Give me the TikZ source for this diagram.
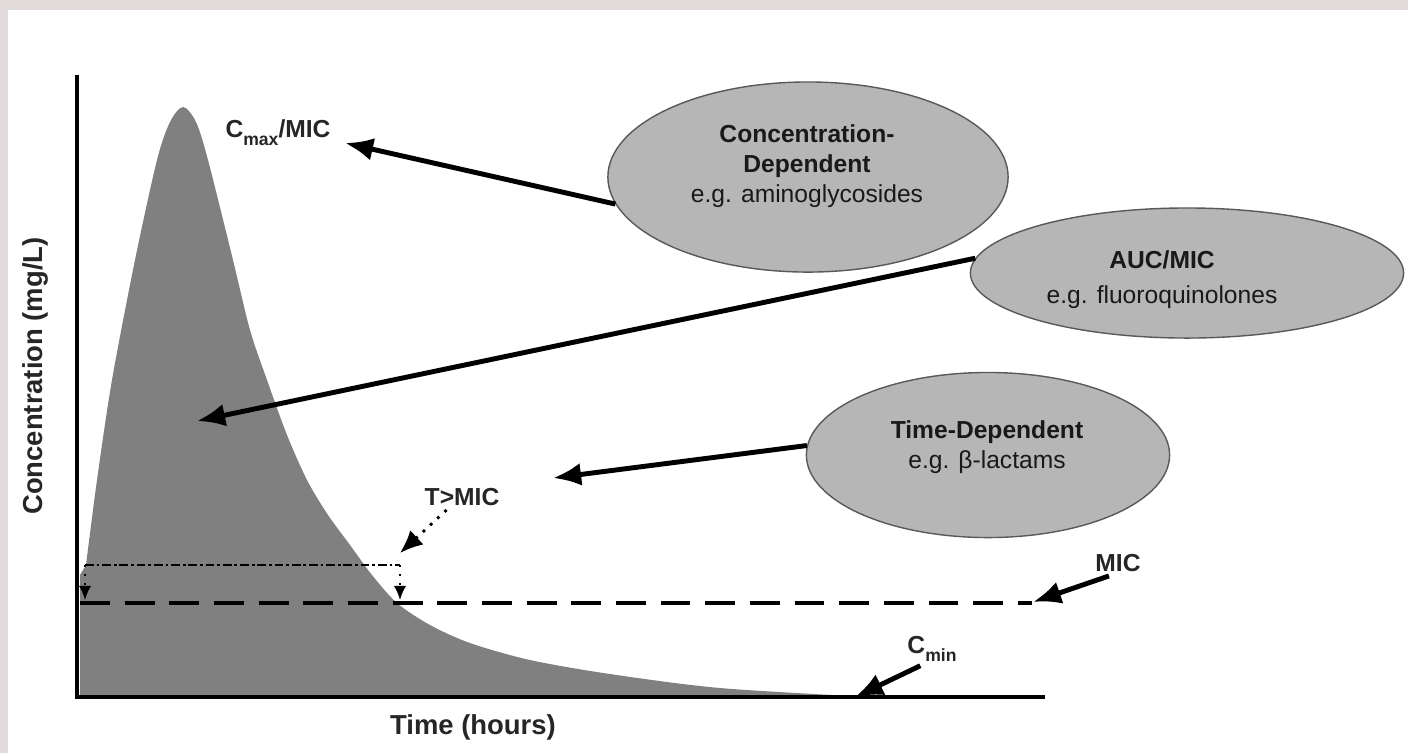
\documentclass[tikz,border=0pt]{standalone}
\usepackage{fontspec}
\setmainfont{Liberation Sans}
\usetikzlibrary{positioning,arrows.meta,shapes.geometric}
\definecolor{curvegray}{RGB}{128,128,128}
\definecolor{bubblegray}{RGB}{182,182,182}
\definecolor{framegray}{RGB}{227,219,219}
\newcommand{\lowsub}[1]{\raisebox{-0.6ex}{\fontsize{5}{5}\selectfont #1}}
\tikzset{
	bubble/.style={ellipse,draw=black!65,thin,fill=bubblegray,inner sep=0pt},
	bubtext/.style={draw=none,text centered,align=center,font=\fontsize{7}{8.5}\selectfont,text=black!90},
	mylabel/.style={draw=none,font=\bfseries\fontsize{7}{8.5}\selectfont,text=black!85,inner sep=1pt},
	axislabel/.style={draw=none,font=\bfseries\fontsize{7.8}{9}\selectfont,text=black!85},
	myarrow1/.style={-{Latex[length=8pt,width=6.5pt]},line width=1.4pt},
	myarrow2/.style={-{Latex[length=6.5pt,width=5.5pt]},line width=0.8pt,dotted},
	myarrow3/.style={-{Latex[length=4pt,width=3.5pt]},line width=0.6pt,dotted},
	bracketline/.style={line width=0.7pt,dash pattern=on 2.5pt off 0.8pt on 0.8pt off 0.8pt},
	micline/.style={line width=1.1pt,dash pattern=on 8.5pt off 4.2pt},
	axisline/.style={line width=1.4pt}
}
\begin{document}
\begin{tikzpicture}[x=0.01cm,y=-0.01cm]
		\useasboundingbox (0,0) rectangle (1408,753);
		\fill[framegray] (0,0) rectangle (1408,753);
		\fill[white] (8,10) rectangle (1408,753);
		\fill[curvegray] (80,697) -- (80,575) -- plot[smooth,tension=0.5] coordinates {(86,565) (97,480) (112,380) (135,260) (157,160) (170,122) (183,107) (196,122) (208,160) (233,260) (250,330) (267,380) (287,435) (307,480) (328,515) (350,545) (372,575) (397,603) (430,625) (470,643) (530,660) (610,674) (720,688) (870,697)} -- cycle;
		\coordinate (mic0) at (80,603);
		\coordinate (mic1) at (1032,603);
		\draw[micline] (mic0) -- (mic1);
		\coordinate (brtl) at (85,565);
		\coordinate (brtr) at (400,565);
		\coordinate (brbl) at (85,600);
		\coordinate (brbr) at (400,600);
		\draw[bracketline] (brtl) -- (brtr);
		\draw[myarrow3] (brtl) -- (brbl);
		\draw[myarrow3] (brtr) -- (brbr);
		\coordinate (origin) at (77,697);
		\coordinate (ytop) at (77,75);
		\coordinate (xend) at (1045,697);
		\draw[axisline] (ytop) -- (origin) -- (xend);
		\node[axislabel] (timelab) at (473,727) {Time (hours)};
		\node[axislabel,rotate=90] (conclab) at (35,376) {Concentration (mg/L)};
		\node[bubble,minimum width=4cm,minimum height=1.9cm] (conc) at (808,177) {};
		\node[bubtext] (conctext) at (807,166) {\textbf{Concentration-}\\\textbf{Dependent}\\e.g. aminoglycosides};
		\node[bubble,minimum width=4.33cm,minimum height=1.3cm] (auc) at (1187,273) {};
		\node[bubtext] (auctext) at (1162,280) {\textbf{AUC/MIC}\\[1.5pt]e.g. fluoroquinolones};
		\node[bubble,minimum width=3.63cm,minimum height=1.65cm] (tdep) at (988,455) {};
		\node[bubtext] (tdeptext) at (987,447) {\textbf{Time-Dependent}\\e.g. β-lactams};
		\node[mylabel] (cmax) at (278,133) {C\lowsub{max}/MIC};
		\node[mylabel] (tmic) at (462,497) {T>MIC};
		\node[mylabel] (mic) at (1118,563) {MIC};
		\node[mylabel] (cmin) at (932,649) {C\lowsub{min}};
		\coordinate (cmaxtip) at (345,143);
		\draw[myarrow1] (conc.188) -- (cmaxtip);
		\coordinate (auctip) at (197,421);
		\draw[myarrow1] (auc.176) -- (auctip);
		\coordinate (tdeptip) at (553,478);
		\draw[myarrow1] (tdep.177) -- (tdeptip);
		\coordinate (mictip) at (1033,602);
		\draw[myarrow1] (mic.235) -- (mictip);
		\coordinate (cmintip) at (855,697);
		\draw[myarrow1] (cmin.235) -- (cmintip);
		\coordinate (tmictip) at (400,553);
		\draw[myarrow2] (tmic.220) -- (tmictip);
	\end{tikzpicture}
\end{document}
